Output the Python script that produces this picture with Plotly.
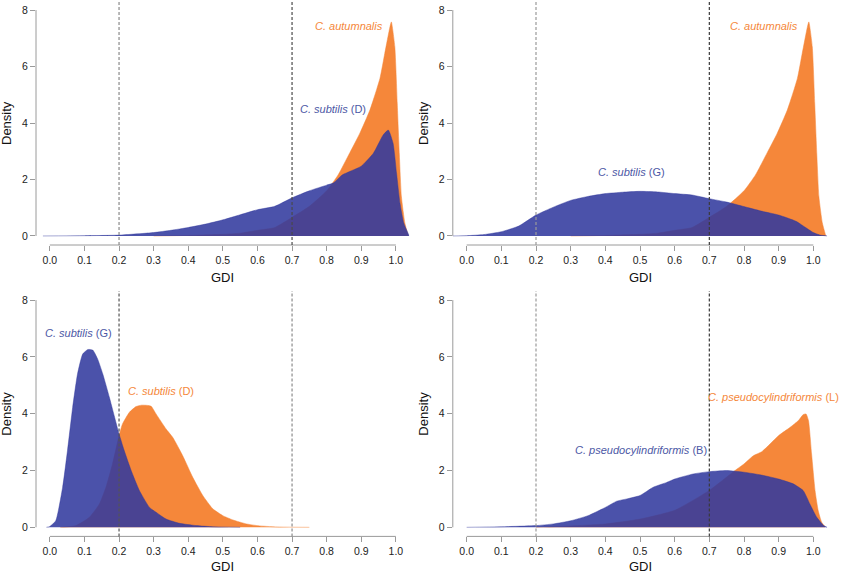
import plotly.graph_objects as go

# ---------------- data ----------------
ticks_x = [0.0, 0.1, 0.2, 0.3, 0.4, 0.5, 0.6, 0.7, 0.8, 0.9, 1.0]
ticks_y = [0, 2, 4, 6, 8]
thresholds = [0.2, 0.7]

# C. autumnalis (used in panels 1 and 2)
aut_x = [0.30, 0.40, 0.50, 0.55, 0.60, 0.65, 0.70, 0.75, 0.80, 0.833, 0.867, 0.896, 0.925,
         0.954, 0.968, 0.983, 0.987, 0.997, 1.004, 1.010, 1.016, 1.026, 1.036]
aut_y = [0.0, 0.02, 0.06, 0.10, 0.20, 0.30, 0.66, 1.05, 1.60, 2.16, 2.95, 3.64, 4.46,
         5.58, 6.47, 7.41, 7.58, 6.70, 4.70, 2.90, 1.40, 0.46, 0.0]

# C. subtilis (D), panel 1
subD1_x = [-0.02, 0.10, 0.20, 0.30, 0.35, 0.40, 0.45, 0.50, 0.55, 0.60, 0.65, 0.70, 0.75, 0.80,
           0.82, 0.845, 0.87, 0.90, 0.935, 0.963, 0.978, 0.992, 1.002, 1.012, 1.023, 1.038]
subD1_y = [0.0, 0.01, 0.03, 0.12, 0.20, 0.30, 0.42, 0.57, 0.75, 0.93, 1.05, 1.35, 1.60, 1.80,
           1.88, 2.16, 2.30, 2.47, 2.93, 3.57, 3.75, 3.28, 2.22, 1.16, 0.45, 0.02]

# C. subtilis (G), panel 2
subG2_x = [-0.04, 0.0, 0.05, 0.10, 0.15, 0.20, 0.25, 0.30, 0.35, 0.40, 0.45, 0.50, 0.55, 0.60,
           0.65, 0.70, 0.75, 0.80, 0.85, 0.90, 0.95, 0.98, 1.00, 1.02, 1.04]
subG2_y = [0.0, 0.01, 0.05, 0.15, 0.35, 0.74, 1.02, 1.26, 1.40, 1.50, 1.55, 1.58, 1.56, 1.50,
           1.45, 1.32, 1.20, 1.04, 0.88, 0.74, 0.52, 0.28, 0.12, 0.03, 0.0]

# C. subtilis (G) vs C. subtilis (D), panel 3
subG3_x = [-0.01, 0.0, 0.017, 0.037, 0.051, 0.066, 0.08, 0.095, 0.11, 0.124, 0.138, 0.153, 0.172,
           0.186, 0.20, 0.215, 0.235, 0.259, 0.288, 0.307, 0.336, 0.375, 0.423, 0.471, 0.55]
subG3_y = [0.0, 0.03, 0.23, 1.41, 2.70, 4.23, 5.40, 6.10, 6.26, 6.24, 5.93, 5.40, 4.58,
           3.93, 3.29, 2.70, 2.00, 1.29, 0.70, 0.53, 0.29, 0.14, 0.06, 0.02, 0.0]
subD3_x = [0.03, 0.075, 0.114, 0.143, 0.162, 0.181, 0.20, 0.21, 0.23, 0.249, 0.265, 0.292, 0.307,
           0.336, 0.355, 0.384, 0.413, 0.442, 0.471, 0.50, 0.529, 0.568, 0.606, 0.664, 0.75]
subD3_y = [0.0, 0.06, 0.35, 0.82, 1.41, 2.23, 3.23, 3.64, 4.05, 4.25, 4.30, 4.27, 3.99,
           3.46, 3.17, 2.52, 1.76, 1.12, 0.65, 0.41, 0.26, 0.12, 0.05, 0.01, 0.0]

# C. pseudocylindriformis (B) vs (L), panel 4
psB_x = [0.0, 0.10, 0.20, 0.25, 0.30, 0.35, 0.40, 0.433, 0.462, 0.50, 0.538, 0.577, 0.60, 0.654,
         0.70, 0.75, 0.80, 0.85, 0.90, 0.942, 0.971, 0.99, 1.01, 1.03, 1.04]
psB_y = [0.0, 0.02, 0.06, 0.12, 0.23, 0.41, 0.70, 0.92, 1.00, 1.12, 1.41, 1.58, 1.70, 1.88,
         1.96, 2.00, 1.94, 1.84, 1.70, 1.53, 1.29, 0.82, 0.35, 0.06, 0.0]
psL_x = [0.20, 0.30, 0.40, 0.50, 0.60, 0.70, 0.774, 0.80, 0.827, 0.851, 0.875, 0.90, 0.933,
         0.957, 0.971, 0.979, 0.986, 0.995, 1.005, 1.014, 1.024, 1.034]
psL_y = [0.0, 0.05, 0.12, 0.29, 0.60, 1.30, 2.00, 2.23, 2.52, 2.66, 2.93, 3.23, 3.52,
         3.76, 3.97, 3.99, 3.76, 2.58, 1.29, 0.59, 0.18, 0.02]

panels = [
    dict(orange=(aut_x, aut_y), blue=(subD1_x, subD1_y),
         labels=[("<i>C. autumnalis</i>", 0.866, 7.42, "o"), ("<i>C. subtilis</i> (D)", 0.818, 4.5, "b")],
         dash_cols=["#8a8a8a", "#4a4a4a"]),
    dict(orange=(aut_x, aut_y), blue=(subG2_x, subG2_y),
         labels=[("<i>C. autumnalis</i>", 0.859, 7.43, "o"), ("<i>C. subtilis</i> (G)", 0.475, 2.28, "b")],
         dash_cols=["#9a9a9a", "#3a3a3a"]),
    dict(orange=(subD3_x, subD3_y), blue=(subG3_x, subG3_y),
         labels=[("<i>C. subtilis</i> (G)", 0.083, 6.85, "b"), ("<i>C. subtilis</i> (D)", 0.321, 4.8, "o")],
         dash_cols=["#555555", "#8a8a8a"]),
    dict(orange=(psL_x, psL_y), blue=(psB_x, psB_y),
         labels=[("<i>C. pseudocylindriformis</i> (L)", 0.884, 4.58, "o"),
                 ("<i>C. pseudocylindriformis</i> (B)", 0.504, 2.72, "b")],
         dash_cols=["#9a9a9a", "#3a3a3a"]),
]

# ---------------- style ----------------
W, H = 843, 574
ORANGE = "#F5873A"
BLUE_FILL = "rgba(50,58,158,0.88)"
BLUE_TXT = "#4C58A5"
FONT = "Liberation Sans, Arial, sans-serif"
AX_GREY = "#9a9a9a"


def px_x(p):
    return p / W


def px_y(p):
    return 1 - p / H


xdom = [[px_x(36), px_x(409.7)], [px_x(452.8), px_x(827.2)]]
ydom = [[px_y(245), px_y(1)], [px_y(536.4), px_y(291)]]
title_y = [277.5, 566]

fig = go.Figure()
layout = dict(width=W, height=H, margin=dict(l=0, r=0, t=0, b=0, pad=0),
              paper_bgcolor="white", plot_bgcolor="white", showlegend=False,
              font=dict(family=FONT, size=11, color="#222"))
shapes, annots = [], []

for i, p in enumerate(panels):
    row, col = divmod(i, 2)
    n = i + 1
    xa = "x" if n == 1 else f"x{n}"
    ya = "y" if n == 1 else f"y{n}"
    xkey = "xaxis" if n == 1 else f"xaxis{n}"
    ykey = "yaxis" if n == 1 else f"yaxis{n}"

    ox, oy = p["orange"]
    bx, by = p["blue"]
    fig.add_trace(go.Scatter(x=ox, y=oy, mode="lines", fill="tozeroy", fillcolor=ORANGE,
                             line=dict(width=0.5, color=ORANGE, shape="spline", smoothing=0.5),
                             xaxis=xa, yaxis=ya, hoverinfo="skip"))
    fig.add_trace(go.Scatter(x=bx, y=by, mode="lines", fill="tozeroy", fillcolor=BLUE_FILL,
                             line=dict(width=0.5, color=BLUE_FILL, shape="spline", smoothing=0.5),
                             xaxis=xa, yaxis=ya, hoverinfo="skip"))

    layout[xkey] = dict(domain=xdom[col], anchor=ya, range=[-0.04, 1.04],
                        tickmode="array", tickvals=ticks_x, tickformat=".1f",
                        ticks="outside", ticklen=5, tickcolor=AX_GREY, tickwidth=1,
                        showgrid=False, zeroline=False, showline=False, fixedrange=True,
                        tickfont=dict(size=10.5, color="#222"))
    layout[ykey] = dict(domain=ydom[row], anchor=xa, range=[-0.32, 8.32],
                        tickmode="array", tickvals=ticks_y,
                        ticks="outside", ticklen=5, tickcolor=AX_GREY, tickwidth=1,
                        showgrid=False, zeroline=False, showline=False, fixedrange=True,
                        tickfont=dict(size=10.5, color="#222"))

    shapes.append(dict(type="line", xref=xa, yref=f"{ya} domain", x0=ticks_x[0], x1=ticks_x[-1],
                       y0=0, y1=0, line=dict(color=AX_GREY, width=1)))
    shapes.append(dict(type="line", xref=f"{xa} domain", yref=ya, x0=0, x1=0,
                       y0=ticks_y[0], y1=ticks_y[-1], line=dict(color=AX_GREY, width=1)))
    for t, c in zip(thresholds, p["dash_cols"]):
        shapes.append(dict(type="line", xref=xa, yref=f"{ya} domain", x0=t, x1=t, y0=0, y1=1,
                           line=dict(color=c, width=1.2, dash="3px,2px"), layer="above"))
    for txt, lx, ly, ck in p["labels"]:
        annots.append(dict(text=txt, x=lx, y=ly, xref=xa, yref=ya, showarrow=False,
                           xanchor="center", yanchor="middle",
                           font=dict(size=11, color=ORANGE if ck == "o" else BLUE_TXT)))
    annots.append(dict(text="GDI", x=0.5, xref=xa, y=px_y(title_y[row]), yref="paper",
                       showarrow=False, xanchor="center", yanchor="middle",
                       font=dict(size=13, color="#111")))
    annots.append(dict(text="Density", x=px_x(7 + col * 417), xref="paper", y=0.5,
                       yref=f"{ya} domain", textangle=-90, showarrow=False,
                       xanchor="center", yanchor="middle", font=dict(size=13, color="#111")))

layout["shapes"] = shapes
layout["annotations"] = annots
fig.update_layout(**layout)
fig.write_html("out.html", config={"displayModeBar": False},
               post_script="document.body.style.margin='0px';document.body.style.overflow='hidden';")
